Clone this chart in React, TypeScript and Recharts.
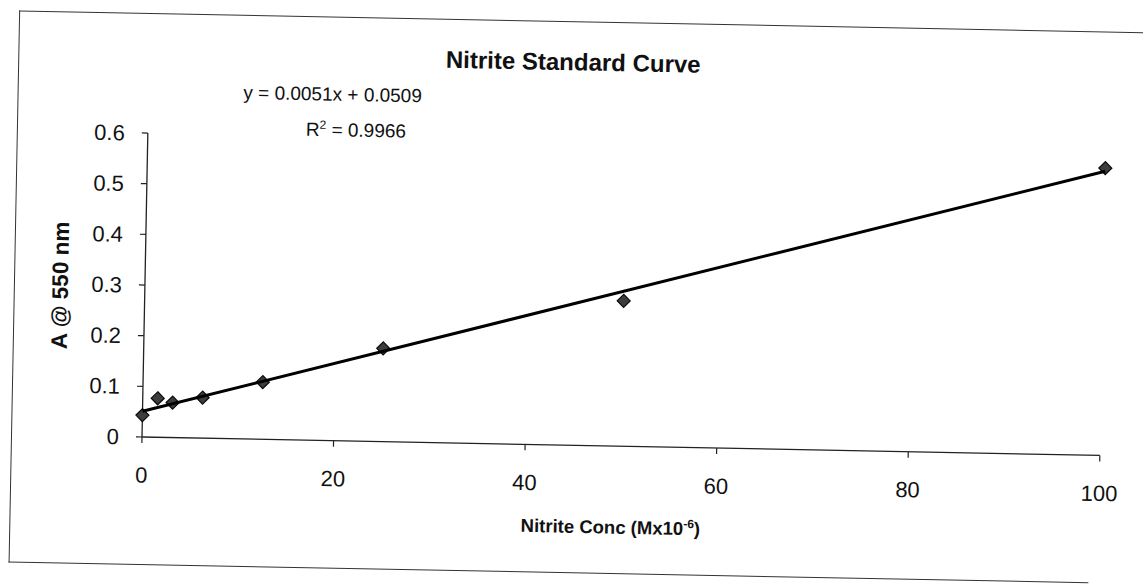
import React from "react";
import { ScatterChart, Scatter, XAxis, YAxis } from "recharts";

// nitrite standards (µM) and their absorbance at 550 nm
const concentrations = [0, 1.5625, 3.125, 6.25, 12.5, 25, 50, 100];
const absorbances = [0.043, 0.077, 0.069, 0.08, 0.113, 0.184, 0.287, 0.567];

const xTicks = [0, 20, 40, 60, 80, 100];
const yTicks = [0, 0.1, 0.2, 0.3, 0.4, 0.5, 0.6];

// linear trendline, same coefficients as the printed equation
const slope = 0.0051;
const intercept = 0.0509;
const rSquared = 0.9966;
const fitRange = [0, 100];

const points = concentrations.map((x, i) => ({ x, y: absorbances[i] }));
const fitLine = fitRange.map((x) => ({ x, y: slope * x + intercept }));

const FONT = '"Liberation Sans", Arial, Helvetica, sans-serif';
const INK = "#111";

const Diamond = (props: any) => {
  const { cx, cy } = props;
  const r = 6.5;
  return (
    <polygon
      points={`${cx},${cy - r} ${cx + r},${cy} ${cx},${cy + r} ${cx - r},${cy}`}
      fill="#3d3d3d"
      stroke="#0a0a0a"
      strokeWidth={1.2}
    />
  );
};

const NoDot = () => <g />;

const abs = (left: number, top: number, extra: React.CSSProperties = {}): React.CSSProperties => ({
  position: "absolute",
  left,
  top,
  transform: "translate(-50%, -50%)",
  whiteSpace: "nowrap",
  fontFamily: FONT,
  color: INK,
  ...extra,
});

export default function App() {
  return (
    <div
      style={{
        position: "absolute",
        left: 0,
        top: 0,
        width: 1143,
        height: 585,
        background: "#fff",
        overflow: "hidden",
      }}
    >
      <div
        style={{
          position: "absolute",
          left: 0,
          top: 0,
          width: 1143,
          height: 585,
          transform: "rotate(1.1deg)",
          transformOrigin: "142px 437px",
        }}
      >
        {/* outer frame */}
        <div
          style={{
            position: "absolute",
            left: 11,
            top: 13,
            width: 1200,
            height: 551,
            borderLeft: "1.3px solid #333",
            borderTop: "1.3px solid #333",
          }}
        />
        <div
          style={{
            position: "absolute",
            left: 11,
            top: 564,
            width: 1080,
            borderTop: "1.5px solid #333",
          }}
        />

        <ScatterChart
          width={1143}
          height={585}
          margin={{ top: 133, right: 43, bottom: 88, left: 82 }}
          style={{ position: "absolute", left: 0, top: 0 }}
        >
          <XAxis
            type="number"
            dataKey="x"
            domain={[0, 100]}
            ticks={xTicks}
            height={60}
            tickSize={6}
            tickMargin={24}
            axisLine={{ stroke: "#222", strokeWidth: 1.3 }}
            tickLine={{ stroke: "#222", strokeWidth: 1.2 }}
            tick={{ fontSize: 22, fill: INK, fontFamily: FONT }}
          />
          <YAxis
            type="number"
            dataKey="y"
            domain={[0, 0.6]}
            ticks={yTicks}
            width={60}
            tickSize={6}
            tickMargin={17}
            tickFormatter={(v: number) => String(v)}
            axisLine={{ stroke: "#222", strokeWidth: 1.3 }}
            tickLine={{ stroke: "#222", strokeWidth: 1.2 }}
            tick={{ fontSize: 22, fill: INK, fontFamily: FONT }}
          />
          <Scatter data={points} shape={Diamond} isAnimationActive={false} />
          <Scatter
            data={fitLine}
            shape={NoDot}
            line={{ stroke: "#000", strokeWidth: 3 }}
            isAnimationActive={false}
          />
        </ScatterChart>

        <div style={abs(566, 54, { fontSize: 24, fontWeight: "bold" })}>Nitrite Standard Curve</div>
        <div style={abs(326, 91, { fontSize: 19 })}>
          y = {slope}x + {intercept}
        </div>
        <div style={abs(350, 126, { fontSize: 19 })}>
          R<sup style={{ fontSize: 12 }}>2</sup> = {rSquared}
        </div>
        <div style={abs(612, 518, { fontSize: 18.5, fontWeight: "bold" })}>
          Nitrite Conc (Mx10<sup style={{ fontSize: 12 }}>-6</sup>)
        </div>
        <div style={abs(58, 287, { fontSize: 22.5, fontWeight: "bold", transform: "translate(-50%, -50%) rotate(-90deg)" })}>
          A @ 550 nm
        </div>
      </div>
    </div>
  );
}
